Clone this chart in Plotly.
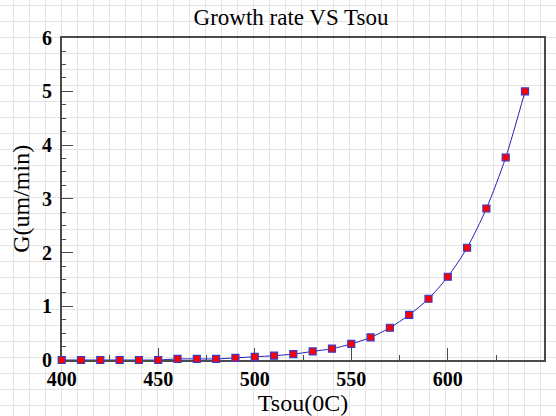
import plotly.graph_objects as go

# ---- data ----
tsou = [400, 410, 420, 430, 440, 450, 460, 470, 480, 490, 500, 510, 520,
        530, 540, 550, 560, 570, 580, 590, 600, 610, 620, 630, 640]
growth = [0.00, 0.00, 0.00, 0.00, 0.00, 0.00, 0.02, 0.02, 0.02, 0.04, 0.06,
          0.08, 0.11, 0.16, 0.21, 0.30, 0.42, 0.60, 0.84, 1.14, 1.55, 2.09,
          2.82, 3.77, 5.00]
x_ticks = [400, 450, 500, 550, 600, 650]
y_ticks = [0, 1, 2, 3, 4, 5, 6]

W, H = 556, 416
# plot area in pixels
L, R, T, B = 61.7, 544.3, 37.7, 360.0

SERIF = "Liberation Serif, Times New Roman, serif"

fig = go.Figure()

# invisible trace to hold the graph-paper background axes
fig.add_trace(go.Scatter(x=[None], y=[None], xaxis="x", yaxis="y",
                         showlegend=False, hoverinfo="skip", mode="markers"))

fig.add_trace(go.Scatter(
    x=tsou, y=growth, xaxis="x2", yaxis="y2",
    mode="lines+markers",
    line=dict(color="#2323b8", width=1, shape="spline", smoothing=0.8),
    marker=dict(symbol="square", size=7, color="#ff0000",
                line=dict(color="#3a3ac8", width=1.2)),
    cliponaxis=False, showlegend=False,
))

axis_common = dict(
    showline=True, mirror=True, linecolor="#4a4a4a", linewidth=1.5,
    showgrid=False, zeroline=False, ticks="inside", ticklen=12,
    tickwidth=1.3, tickcolor="#4a4a4a", layer="below traces",
    automargin=False,
    tickfont=dict(family=SERIF, size=20, color="#000000", weight="bold"),
)

fig.update_layout(
    width=W, height=H, autosize=False,
    margin=dict(l=0, r=0, t=0, b=0, pad=0, autoexpand=False),
    paper_bgcolor="#ffffff", plot_bgcolor="rgba(0,0,0,0)",
    # graph-paper background
    xaxis=dict(domain=[0, 1], range=[0, W], showgrid=True, gridcolor="#e4e4e4",
               gridwidth=1.4, tick0=13.6, dtick=15.98, showticklabels=False,
               zeroline=False, showline=False, ticks="", fixedrange=True,
               automargin=False),
    yaxis=dict(domain=[0, 1], range=[H, 0], showgrid=True, gridcolor="#e4e4e4",
               gridwidth=1.4, tick0=5.7, dtick=15.98, showticklabels=False,
               zeroline=False, showline=False, ticks="", fixedrange=True,
               automargin=False),
    xaxis2=dict(domain=[L / W, R / W], anchor="y2", range=[400, 650],
                tickvals=x_ticks, ticklabelstandoff=0,
                minor=dict(dtick=25, tick0=400, ticks="inside", ticklen=5,
                           tickwidth=1.3, tickcolor="#4a4a4a", showgrid=False),
                title=dict(text="Tsou(0C)", standoff=2,
                           font=dict(family=SERIF, size=24, color="#000000")),
                **axis_common),
    yaxis2=dict(domain=[1 - B / H, 1 - T / H], anchor="x2", range=[0, 6],
                tickvals=y_ticks, ticklabelstandoff=4,
                minor=dict(dtick=0.25, tick0=0, ticks="inside", ticklen=5,
                           tickwidth=1.3, tickcolor="#4a4a4a", showgrid=False),
                title=dict(text="G(um/min)", standoff=6,
                           font=dict(family=SERIF, size=24, color="#000000")),
                **axis_common),
    title=dict(text="Growth rate VS Tsou", x=291 / W, xanchor="center",
               xref="paper", y=1 - 17 / H, yanchor="middle", yref="container",
               automargin=False,
               font=dict(family=SERIF, size=23, color="#000000")),
)

fig.write_html("out.html")
